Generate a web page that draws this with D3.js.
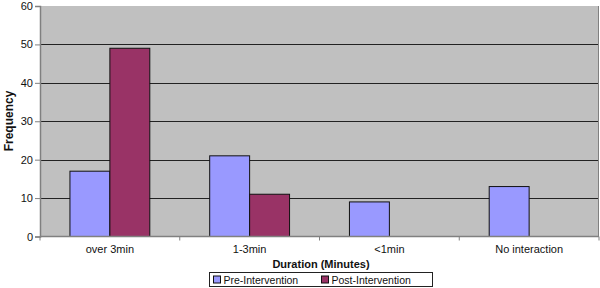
<!DOCTYPE html>
<html>
<head>
<meta charset="utf-8">
<script src="https://cdn.jsdelivr.net/npm/d3@7"></script>
<style>
  body { margin: 0; background: #fff; }
  text { font-family: "Liberation Sans", Arial, sans-serif; }
</style>
</head>
<body>
<svg id="chart"></svg>
<script>
const categories = ['over 3min', '1-3min', '<1min', 'No interaction'];
const seriesNames = ['Pre-Intervention', 'Post-Intervention'];
const preValues = [17, 21, 9, 13];
const postValues = [49, 11, 0, 0];
const yTicks = [0, 10, 20, 30, 40, 50, 60];
const colors = ['#9999ff', '#993366'];

const width = 600, height = 288;
const margin = {top: 6, right: 1, bottom: 51.5, left: 40};
const innerW = width - margin.left - margin.right;
const innerH = height - margin.top - margin.bottom;

const svg = d3.select('#chart')
    .attr('width', width)
    .attr('height', height);

const chart = svg.append('g')
    .attr('transform', `translate(${margin.left},${margin.top})`);

const xScale = d3.scaleBand()
    .domain(categories)
    .range([0, innerW]);

const xInner = d3.scaleBand()
    .domain(seriesNames)
    .range([0, xScale.bandwidth()])
    .paddingOuter(0.75)
    .paddingInner(0);

const yScale = d3.scaleLinear()
    .domain([0, 60])
    .range([innerH, 0]);

// plot background
chart.append('rect')
    .attr('width', innerW)
    .attr('height', innerH)
    .attr('fill', '#c0c0c0');

// gridlines
chart.append('g')
    .selectAll('line')
    .data(yTicks.filter(d => d > 0 && d < 60))
    .join('line')
    .attr('x1', 0)
    .attr('x2', innerW)
    .attr('y1', d => Math.round(yScale(d)) + 0.5)
    .attr('y2', d => Math.round(yScale(d)) + 0.5)
    .attr('stroke', '#222')
    .attr('stroke-width', 1);

// bars
const rows = categories.map((c, i) => ({cat: c, vals: [preValues[i], postValues[i]]}));
chart.append('g')
    .selectAll('g')
    .data(rows)
    .join('g')
    .attr('transform', d => `translate(${xScale(d.cat)},0)`)
    .selectAll('rect')
    .data(d => d.vals.map((v, j) => ({name: seriesNames[j], value: v, color: colors[j]})).filter(d => d.value > 0))
    .join('rect')
    .attr('x', d => xInner(d.name))
    .attr('width', xInner.bandwidth())
    .attr('y', d => yScale(d.value))
    .attr('height', d => innerH - yScale(d.value))
    .attr('fill', d => d.color)
    .attr('stroke', '#111')
    .attr('stroke-width', 1);

// right border of plot
chart.append('line')
    .attr('x1', innerW - 0.5).attr('x2', innerW - 0.5)
    .attr('y1', 0).attr('y2', innerH)
    .attr('stroke', '#808080');

// y axis
const yAxis = d3.axisLeft(yScale)
    .tickValues(yTicks)
    .tickSize(5)
    .tickPadding(2);
const yAxisG = chart.append('g')
    .call(yAxis)
    .style('font-size', '11px');
yAxisG.select('.domain').attr('stroke', '#808080').attr('stroke-width', 1.5);
yAxisG.selectAll('.tick line').attr('stroke', '#808080');
yAxisG.selectAll('text').attr('fill', '#111').style('font-family', '"Liberation Sans", Arial, sans-serif');

// x axis
const xAxisG = chart.append('g')
    .attr('transform', `translate(0,${innerH})`);
xAxisG.append('line')
    .attr('x1', 0).attr('x2', innerW)
    .attr('stroke', '#808080').attr('stroke-width', 1.5);
xAxisG.selectAll('.xtick')
    .data(categories.concat(['end']))
    .join('line')
    .attr('class', 'xtick')
    .attr('x1', (d, i) => i < categories.length ? xScale(d) : innerW)
    .attr('x2', (d, i) => i < categories.length ? xScale(d) : innerW)
    .attr('y1', 0).attr('y2', 4)
    .attr('stroke', '#808080');
xAxisG.selectAll('.xlabel')
    .data(categories)
    .join('text')
    .attr('class', 'xlabel')
    .attr('x', d => xScale(d) + xScale.bandwidth() / 2)
    .attr('y', 16.5)
    .attr('text-anchor', 'middle')
    .style('font-size', '11px')
    .attr('fill', '#111')
    .text(d => d);

// axis titles
svg.append('text')
    .attr('x', 321)
    .attr('y', 268)
    .attr('text-anchor', 'middle')
    .style('font-size', '11px')
    .style('font-weight', 'bold')
    .attr('fill', '#111')
    .text('Duration (Minutes)');

svg.append('text')
    .attr('transform', 'translate(13,121) rotate(-90)')
    .attr('text-anchor', 'middle')
    .style('font-size', '12px')
    .style('font-weight', 'bold')
    .attr('fill', '#111')
    .text('Frequency');

// legend
const legend = svg.append('g').attr('transform', 'translate(209.5,272.5)');
legend.append('rect')
    .attr('width', 223)
    .attr('height', 14)
    .attr('fill', '#fff')
    .attr('stroke', '#222');
const legendX = [4, 112];
const items = legend.selectAll('.item')
    .data(seriesNames)
    .join('g')
    .attr('class', 'item')
    .attr('transform', (d, i) => `translate(${legendX[i]},0)`);
items.append('rect')
    .attr('x', 0).attr('y', 3.5)
    .attr('width', 7).attr('height', 7)
    .attr('fill', (d, i) => colors[i])
    .attr('stroke', '#111');
items.append('text')
    .attr('x', 10)
    .attr('y', 11)
    .style('font-size', '10.5px')
    .attr('fill', '#111')
    .text(d => d);
</script>
</body>
</html>
